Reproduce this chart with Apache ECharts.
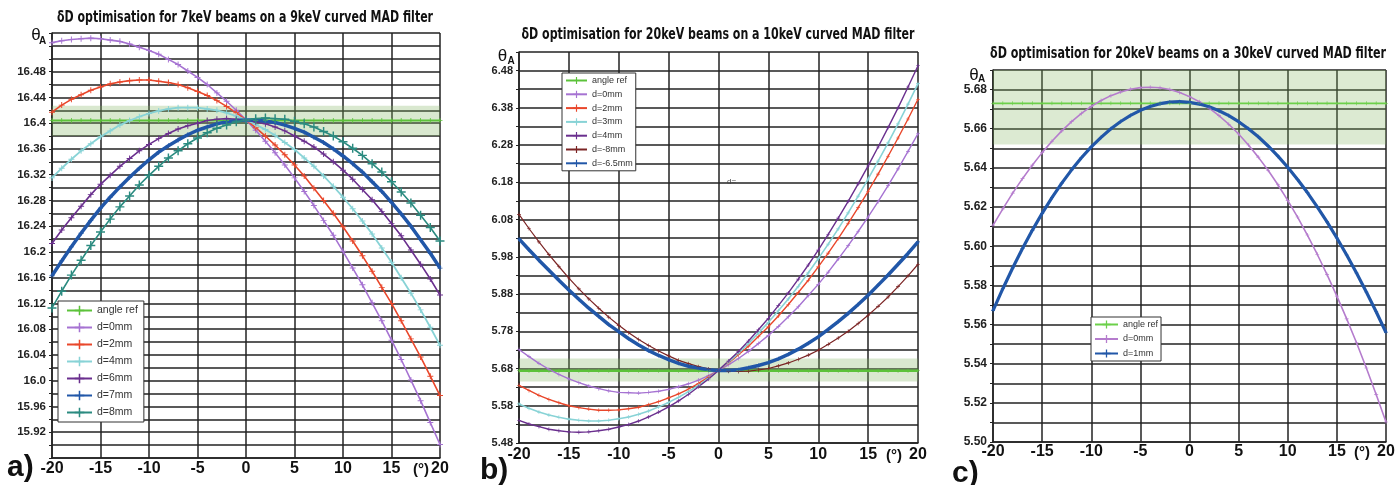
<!DOCTYPE html>
<html><head><meta charset="utf-8">
<script src="https://cdn.jsdelivr.net/npm/echarts/dist/echarts.min.js"></script>
<style>html,body{margin:0;padding:0;background:#fff}#c{width:1395px;height:485px}</style>
</head><body><div id="c"></div>
<script>
// ---------------- data ----------------
const xDeg = [-20,-19,-18,-17,-16,-15,-14,-13,-12,-11,-10,-9,-8,-7,-6,-5,-4,-3,-2,-1,0,1,2,3,4,5,6,7,8,9,10,11,12,13,14,15,16,17,18,19,20];
const xTickLabels = ['-20','-15','-10','-5','0','5','10','15','20'];

// panel a : 7keV beams on a 9keV filter
const refA = [16.404,16.404,16.404,16.404,16.404,16.404,16.404,16.404,16.404,16.404,16.404,16.404,16.404,16.404,16.404,16.404,16.404,16.404,16.404,16.404,16.404,16.404,16.404,16.404,16.404,16.404,16.404,16.404,16.404,16.404,16.404,16.404,16.404,16.404,16.404,16.404,16.404,16.404,16.404,16.404,16.404];
const bandA = [16.380, 16.427];
const a_d0 = [16.525,16.528,16.530,16.531,16.532,16.531,16.529,16.527,16.523,16.518,16.513,16.507,16.499,16.491,16.481,16.471,16.460,16.447,16.434,16.420,16.405,16.389,16.372,16.354,16.335,16.315,16.294,16.272,16.249,16.226,16.201,16.175,16.149,16.121,16.093,16.063,16.033,16.001,15.969,15.935,15.901];
const a_d2 = [16.417,16.428,16.437,16.444,16.451,16.456,16.461,16.464,16.466,16.467,16.467,16.465,16.463,16.460,16.455,16.449,16.443,16.435,16.426,16.416,16.405,16.393,16.380,16.366,16.351,16.335,16.318,16.299,16.280,16.260,16.239,16.217,16.194,16.170,16.145,16.120,16.093,16.065,16.037,16.007,15.977];
const a_d4 = [16.315,16.330,16.344,16.357,16.368,16.379,16.388,16.397,16.404,16.410,16.415,16.419,16.422,16.424,16.424,16.424,16.422,16.420,16.416,16.411,16.405,16.398,16.390,16.381,16.370,16.359,16.346,16.333,16.318,16.302,16.285,16.267,16.248,16.228,16.206,16.184,16.160,16.136,16.110,16.083,16.055];
const a_d6 = [16.213,16.234,16.253,16.271,16.289,16.305,16.319,16.333,16.345,16.357,16.367,16.376,16.384,16.391,16.396,16.400,16.404,16.406,16.407,16.406,16.405,16.402,16.399,16.394,16.388,16.380,16.372,16.363,16.352,16.340,16.327,16.313,16.297,16.281,16.263,16.244,16.225,16.203,16.181,16.158,16.133];
const a_d7 = [16.163,16.186,16.208,16.229,16.249,16.268,16.285,16.301,16.316,16.330,16.343,16.355,16.365,16.374,16.382,16.389,16.394,16.399,16.402,16.404,16.405,16.405,16.403,16.401,16.397,16.392,16.386,16.378,16.370,16.360,16.349,16.337,16.324,16.309,16.294,16.277,16.259,16.240,16.219,16.198,16.175];
const a_d8 = [16.113,16.139,16.164,16.187,16.210,16.231,16.251,16.270,16.287,16.304,16.319,16.333,16.346,16.357,16.368,16.377,16.385,16.392,16.397,16.402,16.405,16.407,16.408,16.407,16.406,16.403,16.399,16.394,16.387,16.380,16.371,16.361,16.350,16.337,16.324,16.309,16.293,16.276,16.257,16.238,16.217];
const yTicksA = ['15.92','15.96','16.0','16.04','16.08','16.12','16.16','16.2','16.24','16.28','16.32','16.36','16.4','16.44','16.48'];

// panel b : 20keV beams on a 10keV filter
const refB = [5.674,5.674,5.674,5.674,5.674,5.674,5.674,5.674,5.674,5.674,5.674,5.674,5.674,5.674,5.674,5.674,5.674,5.674,5.674,5.674,5.674,5.674,5.674,5.674,5.674,5.674,5.674,5.674,5.674,5.674,5.674,5.674,5.674,5.674,5.674,5.674,5.674,5.674,5.674,5.674,5.674];
const bandB = [5.645, 5.707];
const b_d0 = [5.731,5.712,5.694,5.678,5.664,5.652,5.642,5.633,5.626,5.620,5.616,5.615,5.614,5.616,5.619,5.624,5.631,5.639,5.649,5.661,5.675,5.690,5.707,5.726,5.747,5.769,5.793,5.819,5.846,5.876,5.906,5.939,5.974,6.010,6.048,6.087,6.128,6.171,6.216,6.263,6.311];
const b_d2 = [5.635,5.621,5.608,5.597,5.588,5.580,5.575,5.571,5.568,5.568,5.569,5.572,5.576,5.583,5.591,5.601,5.612,5.625,5.640,5.657,5.675,5.695,5.717,5.740,5.766,5.792,5.821,5.852,5.884,5.917,5.953,5.990,6.029,6.070,6.112,6.156,6.202,6.250,6.299,6.350,6.403];
const b_d3 = [5.585,5.573,5.563,5.555,5.549,5.544,5.541,5.539,5.539,5.541,5.545,5.550,5.557,5.566,5.577,5.589,5.603,5.618,5.635,5.654,5.675,5.697,5.721,5.747,5.775,5.804,5.835,5.867,5.901,5.937,5.975,6.014,6.055,6.098,6.143,6.189,6.237,6.286,6.337,6.390,6.445];
const b_d4 = [5.541,5.531,5.524,5.517,5.513,5.510,5.509,5.510,5.513,5.517,5.523,5.530,5.539,5.550,5.563,5.577,5.593,5.611,5.631,5.652,5.675,5.700,5.726,5.754,5.784,5.815,5.849,5.883,5.920,5.958,5.998,6.040,6.084,6.129,6.176,6.224,6.275,6.327,6.380,6.436,6.493];
const b_dm8 = [6.094,6.056,6.020,5.986,5.954,5.923,5.894,5.867,5.842,5.818,5.796,5.776,5.758,5.742,5.727,5.714,5.702,5.693,5.685,5.679,5.675,5.673,5.672,5.673,5.676,5.680,5.687,5.695,5.705,5.716,5.729,5.745,5.762,5.780,5.801,5.823,5.847,5.872,5.900,5.929,5.960];
const b_dm65 = [6.028,5.999,5.971,5.944,5.917,5.891,5.866,5.842,5.820,5.798,5.779,5.760,5.743,5.728,5.715,5.704,5.694,5.686,5.681,5.677,5.675,5.675,5.677,5.682,5.688,5.696,5.706,5.718,5.732,5.748,5.765,5.785,5.806,5.828,5.852,5.877,5.904,5.931,5.960,5.989,6.020];
const yTicksB = ['5.48','5.58','5.68','5.78','5.88','5.98','6.08','6.18','6.28','6.38','6.48'];

// panel c : 20keV beams on a 30keV filter
const refC = [5.673,5.673,5.673,5.673,5.673,5.673,5.673,5.673,5.673,5.673,5.673,5.673,5.673,5.673,5.673,5.673,5.673,5.673,5.673,5.673,5.673,5.673,5.673,5.673,5.673,5.673,5.673,5.673,5.673,5.673,5.673,5.673,5.673,5.673,5.673,5.673,5.673,5.673,5.673,5.673,5.673];
const bandC = [5.652, 5.690];
const c_d0 = [5.6106,5.6191,5.6271,5.6345,5.6414,5.6478,5.6536,5.6589,5.6636,5.6678,5.6714,5.6744,5.6769,5.6788,5.6802,5.6810,5.6812,5.6809,5.6800,5.6785,5.6764,5.6738,5.6705,5.6667,5.6623,5.6573,5.6517,5.6455,5.6388,5.6314,5.6234,5.6149,5.6057,5.5959,5.5855,5.5745,5.5629,5.5507,5.5378,5.5243,5.5102];
const c_d1 = [5.5671,5.5783,5.5889,5.5988,5.6081,5.6168,5.6248,5.6322,5.6390,5.6452,5.6507,5.6556,5.6600,5.6637,5.6668,5.6694,5.6714,5.6728,5.6736,5.6738,5.6735,5.6726,5.6712,5.6692,5.6667,5.6636,5.6600,5.6559,5.6512,5.6460,5.6403,5.6341,5.6274,5.6201,5.6124,5.6042,5.5955,5.5863,5.5766,5.5665,5.5559];
const yTicksC = ['5.50','5.52','5.54','5.56','5.58','5.60','5.62','5.64','5.66','5.68'];

const titles = [
  'δD optimisation for 7keV beams on a 9keV curved MAD filter',
  'δD optimisation for 20keV beams on a 10keV curved MAD filter',
  'δD optimisation for 20keV beams on a 30keV curved MAD filter'
];
const panelLetters = ['a)', 'b)', 'c)'];

// ---------------- chart ----------------
const chart = echarts.init(document.getElementById('c'), null, {renderer: 'canvas'});
const pairs = arr => xDeg.map((x, i) => [x, arr[i]]);
const PLUS = 'path://M4.2,0h1.6v4.2h4.2v1.6h-4.2v4.2h-1.6v-4.2h-4.2v-1.6h4.2z';
const SANS = '"Liberation Sans", Arial, sans-serif';
const NARROW = '"Liberation Sans Narrow", "DejaVu Sans Condensed", "Liberation Sans", sans-serif';
const GRIDC = '#222';

const measureCtx = document.createElement('canvas').getContext('2d');
function fitScale(text, font, target) {
  measureCtx.font = font;
  const w = measureCtx.measureText(text).width;
  return w > 0 ? target / w : 1;
}

function xAx(gi, margin) {
  return {type: 'value', gridIndex: gi, min: -20, max: 20, interval: 5,
    axisLine: {show: true, onZero: false, lineStyle: {color: GRIDC, width: 1.5}},
    axisTick: {show: false},
    splitLine: {show: true, lineStyle: {color: GRIDC, width: 1.5}},
    axisLabel: {margin, fontSize: 16, fontWeight: 'bold', color: '#111', fontFamily: SANS,
      showMinLabel: true, showMaxLabel: true,
      formatter: v => xTickLabels.find(s => Math.abs(parseFloat(s) - v) < 1e-6) || ''}};
}
function yAx(gi, min, max, interval, labels, fs) {
  return {type: 'value', gridIndex: gi, min, max, interval, scale: true,
    axisLine: {show: true, onZero: false, lineStyle: {color: GRIDC, width: 1.5}},
    axisTick: {show: true, length: 3, lineStyle: {color: GRIDC, width: 1}},
    splitLine: {show: true, lineStyle: {color: GRIDC, width: 1.5}},
    axisLabel: {margin: 6, fontSize: fs, fontWeight: 'bold', color: '#222', fontFamily: SANS,
      showMinLabel: true, showMaxLabel: true,
      formatter: v => labels.find(s => Math.abs(parseFloat(s) - v) < 1e-6) || ''}};
}
function ln(name, gi, data, color, width, symSize, extra) {
  return Object.assign({type: 'line', name, xAxisIndex: gi, yAxisIndex: gi, data: pairs(data),
    symbol: PLUS, symbolSize: symSize, showSymbol: symSize > 0, smooth: false,
    lineStyle: {color, width}, itemStyle: {color}, emphasis: {disabled: true}, animation: false}, extra || {});
}
function band(b, col) {
  return {markArea: {silent: true, itemStyle: {color: col}, data: [[{yAxis: b[0]}, {yAxis: b[1]}]]}};
}

const GREEN = '#5cc23a', LPURP = '#a673d2', RED = '#e9472b', CYAN = '#88d3d6',
      DPURP = '#6a2f8e', BLUE = '#2157a8', TEAL = '#2b8b80', BROWN = '#7b2424', PINK = '#b57ccd';

const series = [
  ln('a|angle ref', 0, refA, GREEN, 2, 5, band(bandA, 'rgba(128,178,95,0.3)')),
  ln('a|d=0mm', 0, a_d0, LPURP, 1.6, 6),
  ln('a|d=2mm', 0, a_d2, RED, 1.6, 6),
  ln('a|d=4mm', 0, a_d4, CYAN, 1.8, 6),
  ln('a|d=6mm', 0, a_d6, DPURP, 1.6, 6),
  ln('a|d=7mm', 0, a_d7, BLUE, 3.5, 5),
  ln('a|d=8mm', 0, a_d8, TEAL, 1.6, 9),

  ln('b|angle ref', 1, refB, GREEN, 2.5, 4, band(bandB, 'rgba(128,178,95,0.3)')),
  ln('b|d=0mm', 1, b_d0, LPURP, 1.4, 4),
  ln('b|d=2mm', 1, b_d2, RED, 1.4, 4),
  ln('b|d=3mm', 1, b_d3, CYAN, 1.6, 4),
  ln('b|d=4mm', 1, b_d4, DPURP, 1.4, 4),
  ln('b|d=-8mm', 1, b_dm8, BROWN, 1.2, 4),
  ln('b|d=-6.5mm', 1, b_dm65, BLUE, 3.5, 4),

  ln('c|angle ref', 2, refC, '#6cd04a', 1.8, 4, band(bandC, 'rgba(128,178,95,0.28)')),
  ln('c|d=0mm', 2, c_d0, PINK, 1.6, 4),
  ln('c|d=1mm', 2, c_d1, BLUE, 3.2, 4)
];

function leg(prefix, names, left, top, pad, iw, ih, gap, fs) {
  return {show: true, orient: 'vertical', left, top, padding: pad, itemWidth: iw, itemHeight: ih, itemGap: gap,
    selectedMode: false, backgroundColor: '#fff', borderColor: '#333', borderWidth: 1, borderRadius: 0,
    data: names.map(n => prefix + '|' + n),
    formatter: n => n.split('|')[1],
    textStyle: {fontSize: fs, color: '#333', fontFamily: SANS, padding: 0}};
}

const T = (x, y, text, font, align, valign, fill, sx) => ({type: 'text', x, y, silent: true, z: 100,
  scaleX: sx || 1,
  style: {text, font, align: align || 'center', textAlign: align || 'center',
    verticalAlign: valign || 'middle', textVerticalAlign: valign || 'middle', fill: fill || '#111'}});

const TF = 'bold 16px ' + NARROW;
const option = {
  animation: false,
  backgroundColor: '#fff',
  grid: [
    {left: 52, top: 33, width: 388, height: 425, outerBoundsMode: 'none', containLabel: false},
    {left: 519, top: 52, width: 399, height: 391, outerBoundsMode: 'none', containLabel: false},
    {left: 993, top: 70, width: 393, height: 372, outerBoundsMode: 'none', containLabel: false}
  ],
  xAxis: [xAx(0, 3), xAx(1, 4), xAx(2, 2)],
  yAxis: [
    yAx(0, 15.88, 16.54, 0.02, yTicksA, 11.5),
    yAx(1, 5.48, 6.53, 0.05, yTicksB, 11),
    yAx(2, 5.50, 5.69, 0.01, yTicksC, 12)
  ],
  legend: [
    leg('a', ['angle ref', 'd=0mm', 'd=2mm', 'd=4mm', 'd=6mm', 'd=7mm', 'd=8mm'], 58, 301, [4, 6, 4, 8], 25, 12, 6, 10.5),
    leg('b', ['angle ref', 'd=0mm', 'd=2mm', 'd=3mm', 'd=4mm', 'd=-8mm', 'd=-6.5mm'], 562, 73, [3, 3, 3, 3], 21, 9, 4.8, 9),
    leg('c', ['angle ref', 'd=0mm', 'd=1mm'], 1091, 317, [3, 3, 3, 3], 23, 10, 5.5, 9)
  ],
  graphic: [
    T(245, 18, titles[0], TF, 'center', 'middle', '#111', fitScale(titles[0], TF, 376)),
    T(718, 35, titles[1], TF, 'center', 'middle', '#111', fitScale(titles[1], TF, 393)),
    T(1188, 54, titles[2], TF, 'center', 'middle', '#111', fitScale(titles[2], TF, 396)),
    T(36, 35.5, 'θ', '17px ' + SANS),
    T(42.5, 41, 'A', 'bold 10px ' + SANS),
    T(502.5, 56, 'θ', '17px ' + SANS),
    T(511, 61.5, 'A', 'bold 10px ' + SANS),
    T(974, 75, 'θ', '17px ' + SANS),
    T(981.5, 79, 'A', 'bold 10px ' + SANS),
    T(421, 470, '(°)', 'bold 15px ' + SANS),
    T(894, 456, '(°)', 'bold 15px ' + SANS),
    T(1362, 453, '(°)', 'bold 15px ' + SANS),
    T(7, 468, panelLetters[0], 'bold 30px ' + SANS, 'left'),
    T(480, 471, panelLetters[1], 'bold 30px ' + SANS, 'left'),
    T(952, 474, panelLetters[2], 'bold 30px ' + SANS, 'left'),
    T(727, 182, 'd=', '8px ' + SANS, 'left', 'middle', '#444')
  ],
  series
};
chart.setOption(option);
</script>
</body></html>
